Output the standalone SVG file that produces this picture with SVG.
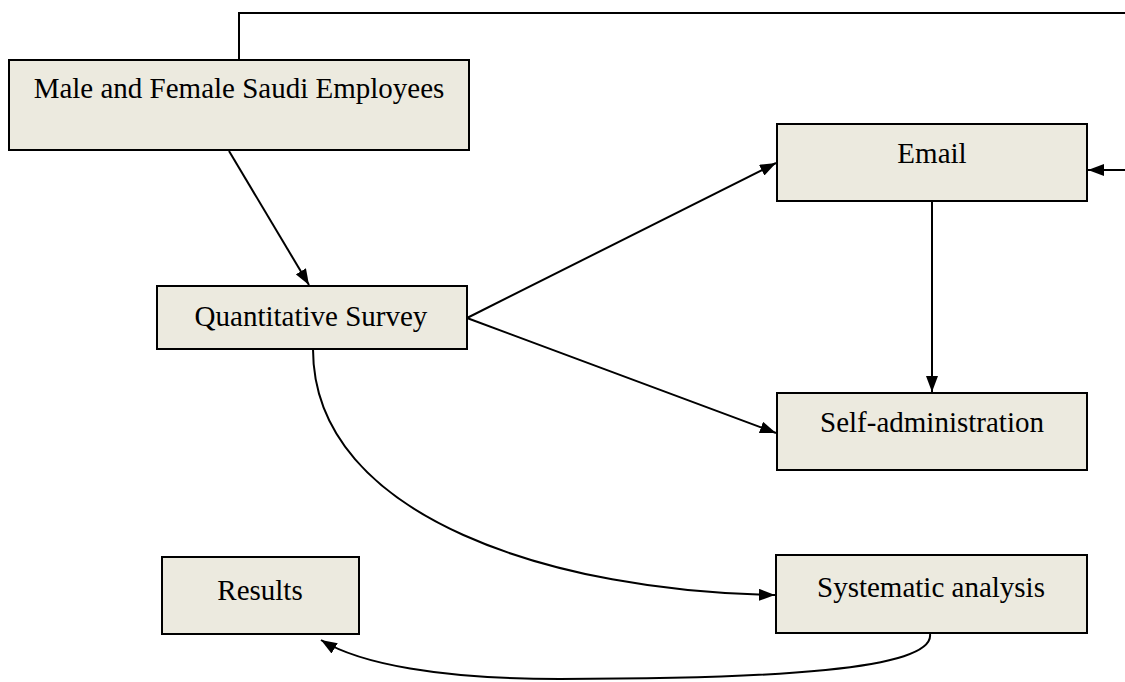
<svg xmlns="http://www.w3.org/2000/svg" width="1125" height="682" viewBox="0 0 1125 682">
<style>
.box{fill:#ECEADF;stroke:#000;stroke-width:2}
.lbl{font-family:"Liberation Serif","Times New Roman",serif;font-size:29px;fill:#000;text-anchor:middle}
.c{fill:none;stroke:#000;stroke-width:2}
</style>
<defs>
<marker id="ah" viewBox="0 0 16 12" refX="16" refY="6" markerWidth="16" markerHeight="12" markerUnits="userSpaceOnUse" orient="auto">
<path d="M0,0 L16,6 L0,12 Z" fill="#000"/>
</marker>
</defs>
<rect width="1125" height="682" fill="#fff"/>
<g id="connectors">
<path class="c" d="M239,60 V13 H1125"/>
<path class="c" d="M1125,170 H1088" marker-end="url(#ah)"/>
<path class="c" d="M229,151 L309,285" marker-end="url(#ah)"/>
<path class="c" d="M467,318 L776,163" marker-end="url(#ah)"/>
<path class="c" d="M467,318 L776,433" marker-end="url(#ah)"/>
<path class="c" d="M932,201 V392" marker-end="url(#ah)"/>
<path class="c" d="M313,349 C313,520 560,592 775,595" marker-end="url(#ah)"/>
<path class="c" d="M930,634 C935,670 770,679 560,679 C440,679 360,664 321,640" marker-end="url(#ah)"/>
</g>
<g id="n-employees"><rect class="box" x="9" y="60" width="460" height="90"/><text class="lbl" x="239" y="98">Male and Female Saudi Employees</text></g>
<g id="n-email"><rect class="box" x="777" y="124" width="310" height="77"/><text class="lbl" x="932" y="163">Email</text></g>
<g id="n-survey"><rect class="box" x="157" y="286" width="310" height="63"/><text class="lbl" x="311" y="326">Quantitative Survey</text></g>
<g id="n-self"><rect class="box" x="777" y="393" width="310" height="77"/><text class="lbl" x="932" y="432">Self-administration</text></g>
<g id="n-results"><rect class="box" x="162" y="557" width="197" height="77"/><text class="lbl" x="260" y="600">Results</text></g>
<g id="n-analysis"><rect class="box" x="776" y="555" width="311" height="78"/><text class="lbl" x="931" y="597">Systematic analysis</text></g>
</svg>
